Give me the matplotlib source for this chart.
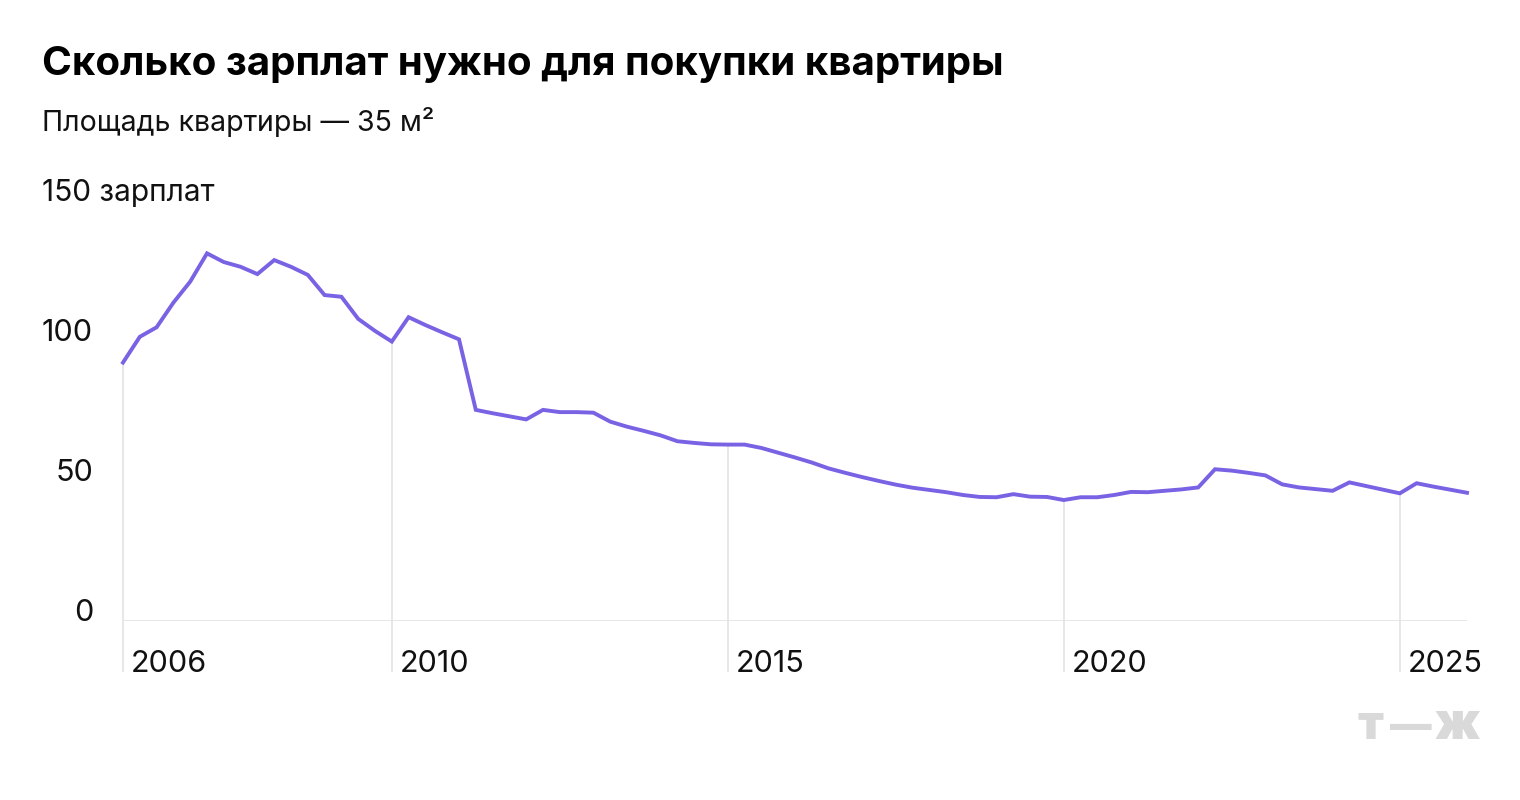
import matplotlib.pyplot as plt
import matplotlib.transforms as mtransforms
import numpy as np

plt.rcParams['font.family'] = ['Inter', 'DejaVu Sans']

# Quarterly values, 2006 Q1 .. 2026 Q1 (salaries needed to buy a 35 m² flat)
salaries = [
    92.3, 101.5, 104.9, 113.7, 121.2, 131.3, 128.2, 126.5, 123.9, 128.9,
    126.5, 123.6, 116.4, 115.8, 107.9, 103.6, 99.8, 108.5, 105.7, 103.1,
    100.6, 75.4, 74.2, 73.1, 72.0, 75.4, 74.6, 74.6, 74.4, 71.2,
    69.4, 67.9, 66.3, 64.2, 63.6, 63.1, 63.0, 63.0, 61.8, 60.1,
    58.4, 56.6, 54.5, 52.9, 51.4, 50.0, 48.7, 47.6, 46.8, 46.0,
    45.0, 44.3, 44.2, 45.3, 44.4, 44.3, 43.2, 44.2, 44.2, 45.0,
    46.1, 46.0, 46.5, 47.0, 47.7, 54.2, 53.7, 52.9, 52.0, 48.8,
    47.7, 47.1, 46.5, 49.5, 48.2, 46.9, 45.6, 49.2, 48.0, 46.9,
    45.8,
]
years = 2006 + 0.25 * np.arange(len(salaries))

tick_years = [2006, 2010, 2015, 2020, 2025]
y_ticks = [0, 50, 100]
y_top_label = '150 зарплат'

title = 'Сколько зарплат нужно для покупки квартиры'
subtitle = 'Площадь квартиры — 35 м²'

line_color = '#7962e3'
grid_color = '#e3e3e3'
text_color = '#111111'

W, H = 1520, 800
fig = plt.figure(figsize=(W / 100, H / 100), dpi=100)
ax = fig.add_axes([123 / W, 1 - 621 / H, (1467 - 123) / W, (621 - 201) / H])
ax.set_xlim(2006, 2026)
ax.set_ylim(0, 150)
ax.axis('off')

# baseline
ax.axhline(0, color=grid_color, lw=1.2, zorder=1)

# drop lines from the curve at each labelled year
sal = np.array(salaries)
for yr in tick_years:
    v = sal[np.argmin(np.abs(years - yr))]
    ax.vlines(yr, -18.2, v, color=grid_color, lw=1.2, zorder=1, clip_on=False)

ax.plot(years, salaries, color=line_color, lw=2.8, zorder=3,
        solid_joinstyle='miter', clip_on=False)

# x labels
xt = mtransforms.offset_copy(ax.transData, fig, x=8, y=0, units='dots')
for yr in tick_years:
    ax.text(yr, -18.2, str(yr), transform=xt, ha='left', va='baseline',
            fontsize=22, color=text_color)

# y labels
yt = mtransforms.blended_transform_factory(fig.transFigure, ax.transData)
for v in y_ticks:
    ax.text(93 / W, v, str(v), transform=yt, ha='right', va='baseline',
            fontsize=22, color=text_color)
ax.text(42 / W, 150, y_top_label, transform=yt, ha='left', va='baseline',
        fontsize=21.5, color=text_color)

fig.text(42 / W, 1 - 75 / H, title, ha='left', va='baseline',
         fontsize=29, fontweight='bold', color='#000000')
fig.text(42 / W, 1 - 131 / H, subtitle, ha='left', va='baseline',
         fontsize=20.5, color=text_color)

# logo
logo_color = '#d9d9d9'
fig.text(1358 / W, 1 - 739 / H, 'т', ha='left', va='baseline',
         fontsize=34, fontweight='black', color=logo_color)
fig.text(1411 / W, 1 - 739 / H, '—', ha='center', va='baseline',
         fontsize=30, fontweight='black', color=logo_color)
fig.text(1480 / W, 1 - 739 / H, 'ж', ha='right', va='baseline',
         fontsize=36, fontweight='black', color=logo_color)

fig.savefig('out.png', dpi=100, facecolor='white')
